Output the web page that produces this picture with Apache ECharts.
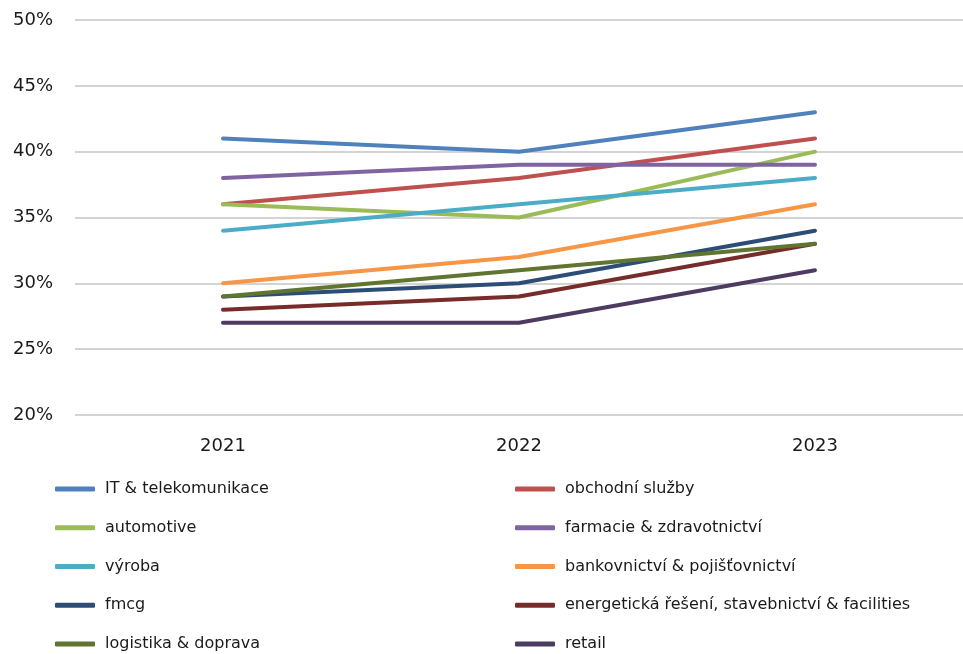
<!DOCTYPE html>
<html>
<head>
<meta charset="utf-8">
<script src="https://cdn.jsdelivr.net/npm/echarts@6/dist/echarts.min.js"></script>
<style>
  html, body { margin: 0; padding: 0; background: #fff; }
  #chart { width: 963px; height: 654px; }
</style>
</head>
<body>
<div id="chart"></div>
<script>
// Years on the category axis
const years = ['2021', '2022', '2023'];

// Share per sector, in percent
const itTelekomunikace = [41, 40, 43];
const obchodniSluzby = [36, 38, 41];
const automotive = [36, 35, 40];
const farmacie = [38, 39, 39];
const vyroba = [34, 36, 38];
const bankovnictvi = [30, 32, 36];
const fmcg = [29, 30, 34];
const energetika = [28, 29, 33];
const logistika = [29, 31, 33];
const retail = [27, 27, 31];

// Sector names, in legend order (left column / right column)
const leftNames = ['IT & telekomunikace', 'automotive', 'výroba', 'fmcg', 'logistika & doprava'];
const rightNames = ['obchodní služby', 'farmacie & zdravotnictví', 'bankovnictví & pojišťovnictví',
  'energetická řešení, stavebnictví & facilities', 'retail'];

const seriesDefs = [
  { name: 'IT & telekomunikace', data: itTelekomunikace, color: '#4F81BD' },
  { name: 'obchodní služby', data: obchodniSluzby, color: '#C0504D' },
  { name: 'automotive', data: automotive, color: '#9BBB59' },
  { name: 'farmacie & zdravotnictví', data: farmacie, color: '#8064A2' },
  { name: 'výroba', data: vyroba, color: '#4BACC6' },
  { name: 'bankovnictví & pojišťovnictví', data: bankovnictvi, color: '#F79646' },
  { name: 'fmcg', data: fmcg, color: '#2C4D75' },
  { name: 'energetická řešení, stavebnictví & facilities', data: energetika, color: '#772C2A' },
  { name: 'logistika & doprava', data: logistika, color: '#5F7530' },
  { name: 'retail', data: retail, color: '#4D3B62' }
];

const font = 'DejaVu Sans';

const legendCommon = {
  orient: 'vertical',
  top: 480,
  height: 174,
  padding: 0,
  icon: 'roundRect',
  itemWidth: 40,
  itemHeight: 5,
  itemGap: 20.75,
  itemStyle: { borderWidth: 0 },
  textStyle: { fontFamily: font, fontSize: 16, color: '#1a1a1a', lineHeight: 18, padding: [0, 0, 0, 5] }
};

const chart = echarts.init(document.getElementById('chart'), null, { renderer: 'canvas' });
chart.setOption({
  animation: false,
  backgroundColor: '#ffffff',
  grid: { left: 75, right: -3, top: 20, height: 395, containLabel: false },
  xAxis: {
    type: 'category',
    data: years,
    boundaryGap: true,
    axisLine: { show: false },
    axisTick: { show: false },
    axisLabel: { fontFamily: font, fontSize: 18, color: '#1a1a1a', margin: 22 }
  },
  yAxis: {
    type: 'value',
    min: 20,
    max: 50,
    interval: 5,
    axisLine: { show: false },
    axisTick: { show: false },
    axisLabel: { fontFamily: font, fontSize: 18, color: '#1a1a1a', margin: 22, formatter: '{value}%' },
    splitLine: { lineStyle: { color: '#c4c4c4', width: 1.5 } }
  },
  legend: [
    Object.assign({ left: 55, data: leftNames }, legendCommon),
    Object.assign({ left: 515, data: rightNames }, legendCommon)
  ],
  series: seriesDefs.map(s => ({
    name: s.name,
    type: 'line',
    data: s.data,
    color: s.color,
    showSymbol: false,
    symbol: 'none',
    lineStyle: { width: 4, color: s.color, cap: 'round', join: 'round' },
    itemStyle: { color: s.color }
  }))
});
</script>
</body>
</html>
